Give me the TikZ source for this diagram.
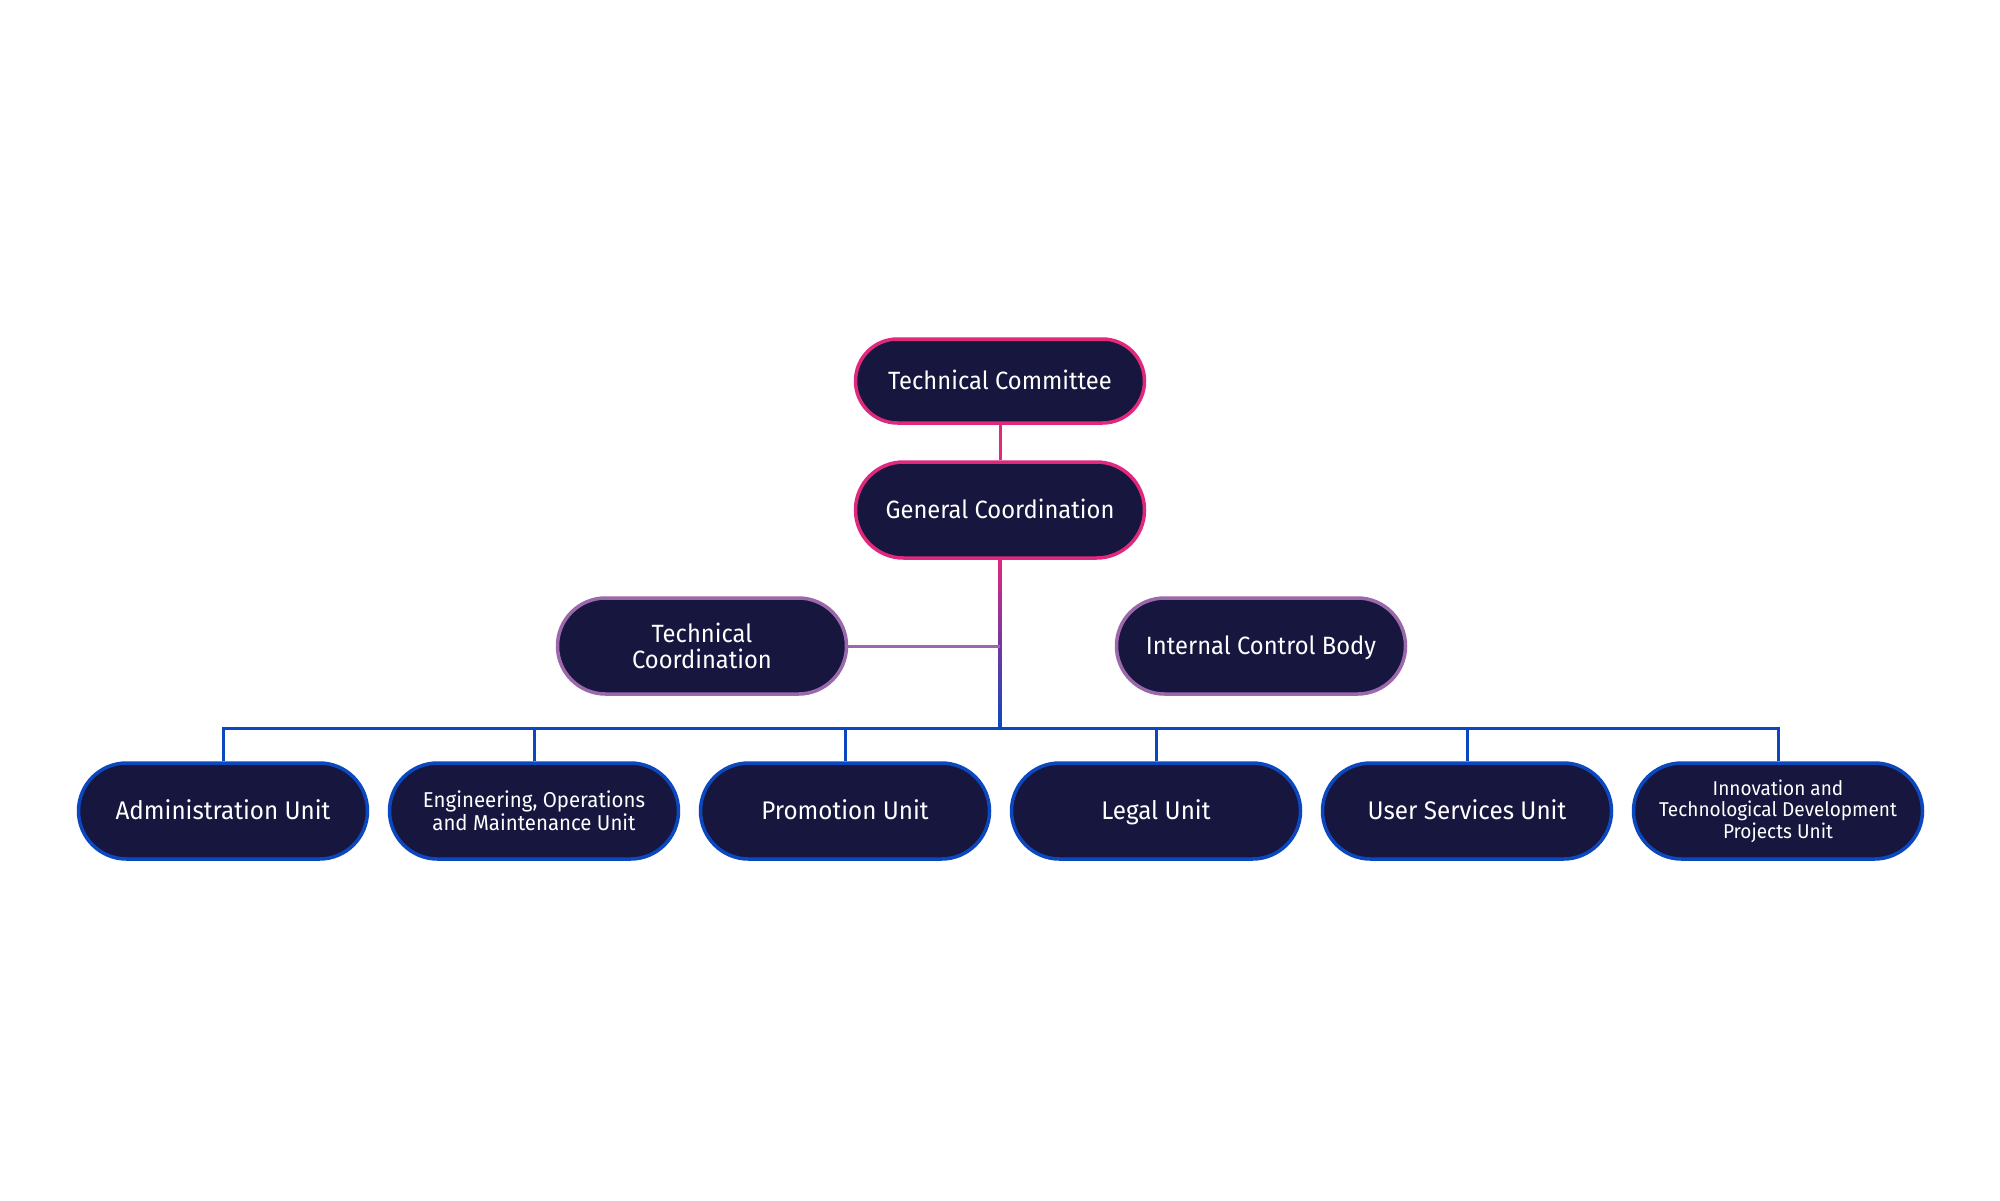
\documentclass[tikz,border=0pt]{standalone}
\usepackage{fontspec}
\setmainfont{Fira Sans}[FakeStretch=0.95]
\usetikzlibrary{positioning,calc}
\definecolor{navy}{HTML}{16163F}
\definecolor{pinkline}{HTML}{E0287D}
\definecolor{purpleline}{HTML}{9A68AB}
\definecolor{blueline}{HTML}{0B48C0}

\begin{document}
\begin{tikzpicture}[x=1pt, y=-1pt, node distance={311pt},
    box/.style = {draw, line width=3.5pt, fill=navy, text=white, rounded corners=48pt,
      minimum width=289pt, minimum height=96pt, inner sep=0pt, align=center,
      font=\fontsize{25}{27}\selectfont},
    single/.style = {text height=17.5pt, text depth=0pt},
    head/.style = {box, single, draw=pinkline},
    side/.style = {box, draw=purpleline},
    unit/.style = {box, draw=blueline, font=\fontsize{25.5}{28}\selectfont},
    link/.style = {line width=3pt}]
    \useasboundingbox (0,0) rectangle (2000,1200);

    % top of the chart
    \node[head, minimum height=84pt, rounded corners=42pt] (TC) at (1000,381) {Technical Committee};
    \node[head] (GC) at (1000,510) {General Coordination};
    \node[side] (TCo) at (702,646) {Technical\\[-1pt]Coordination};
    \node[side, single] (ICB) at (1261,646) {Internal Control Body};

    % units
    \node[unit, single] (admin) at (223,811) {Administration Unit};
    \node[unit, font=\fontsize{21.5}{23}\selectfont] (eng) [right of=admin] {Engineering, Operations\\and Maintenance Unit};
    \node[unit, single] (promo) [right of=eng] {Promotion Unit};
    \node[unit, single] (legal) [right of=promo] {Legal Unit};
    \node[unit, single] (users) [right of=legal] {User Services Unit};
    \node[unit, font=\fontsize{20}{21.5}\selectfont] (innov) [right of=users] {Innovation and\\Technological Development\\Projects Unit};

    \coordinate (bus) at (1000,728);

    \draw[link, pinkline] (TC) -- (GC);
    \shade[top color=pinkline, middle color=purpleline, bottom color=blueline]
      ($(GC.south)+(-1.5,-1)$) rectangle ($(bus)+(1.5,0)$);
    \draw[link, purpleline] (TCo.east) -- (TCo.east -| GC.south);
    \draw[link, blueline] (admin.north) |- (bus) -| (innov.north);
    \foreach \u in {eng,promo,legal,users}
      \draw[link, blueline] (\u.north) -- (\u.north |- bus);
\end{tikzpicture}
\end{document}
